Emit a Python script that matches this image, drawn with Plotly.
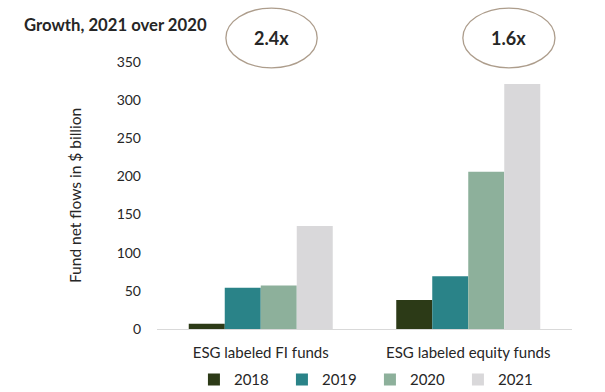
import plotly.graph_objects as go

categories = ["ESG labeled FI funds", "ESG labeled equity funds"]
years = ["2018", "2019", "2020", "2021"]
values = {
    "2018": [7, 38],
    "2019": [54, 69],
    "2020": [57, 206],
    "2021": [135, 321],
}
colors = {
    "2018": "#2c3a17",
    "2019": "#2a8388",
    "2020": "#8db09b",
    "2021": "#d9d8da",
}
growth_labels = ["2.4x", "1.6x"]
y_ticks = [0, 50, 100, 150, 200, 250, 300, 350]

FONT = "Lato"
TXT = "#262626"

fig = go.Figure()
for y in years:
    fig.add_trace(go.Bar(
        x=categories, y=values[y], name=y,
        marker=dict(color=colors[y], line=dict(width=0)),
    ))

fig.update_layout(
    width=605, height=392,
    margin=dict(l=157, r=33, t=62, b=63, autoexpand=False),
    paper_bgcolor="white", plot_bgcolor="white",
    barmode="group", bargap=0.306, bargroupgap=0,
    font=dict(family=FONT, size=14, color=TXT),
    showlegend=True,
    legend=dict(orientation="h", x=0.089, xanchor="left", y=-0.128, yanchor="top",
                font=dict(size=15, color=TXT), itemwidth=30, traceorder="normal",
                entrywidth=43, entrywidthmode="pixels", bgcolor="rgba(0,0,0,0)"),
    xaxis=dict(showline=True, linecolor="#d9d9d9", linewidth=1, ticks="",
               tickfont=dict(size=15, color=TXT), showgrid=False,
               ticklabelstandoff=10),
    yaxis=dict(range=[0, 350], tickvals=y_ticks, showgrid=False, zeroline=False,
               showline=False, tickfont=dict(size=14, color=TXT),
               ticklabelstandoff=15,
               title=dict(text="Fund net flows in $ billion", font=dict(size=15.5, color=TXT),
                          standoff=31)),
)

# Title
fig.add_annotation(text="<b>Growth, 2021 over 2020</b>", xref="paper", yref="paper",
                   x=-0.325, y=1.14, xanchor="left", yanchor="middle",
                   showarrow=False, font=dict(size=16.7, color=TXT))

ellipses = [(0.166, 0.386), (0.737, 0.959)]
for (x0, x1), lab in zip(ellipses, growth_labels):
    fig.add_shape(type="circle", xref="paper", yref="paper",
                  x0=x0, x1=x1, y0=0.978, y1=1.202,
                  line=dict(color="#ad9d8c", width=1.3), fillcolor="rgba(0,0,0,0)")
    fig.add_annotation(text="<b>" + lab + "</b>", xref="paper", yref="paper",
                       x=(x0 + x1) / 2, y=1.09, xanchor="center", yanchor="middle",
                       showarrow=False, font=dict(size=18, color=TXT))

fig.write_html("out.html", config={"displayModeBar": False},
               post_script="document.body.style.margin='0';document.body.style.overflow='hidden';")
